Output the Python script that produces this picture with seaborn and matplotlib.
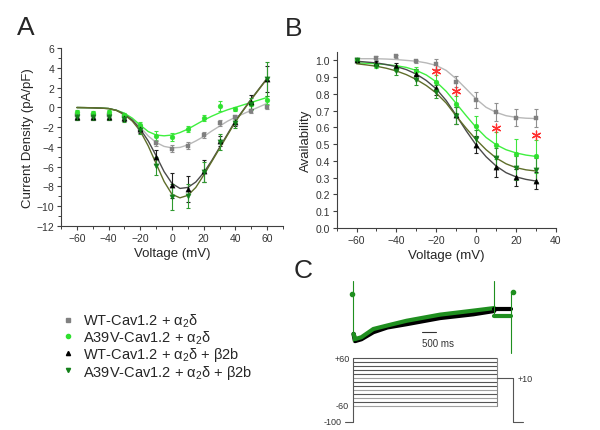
import numpy as np
import pandas as pd
import matplotlib.pyplot as plt
import seaborn as sns
from matplotlib.lines import Line2D
from matplotlib.ticker import MultipleLocator

sns.set_style('ticks')
plt.rcParams['font.family'] = ['Liberation Sans', 'DejaVu Sans']
plt.rcParams['mathtext.fontset'] = 'custom'
plt.rcParams['mathtext.rm'] = 'Liberation Sans'
plt.rcParams['mathtext.it'] = 'Liberation Sans:italic'

# --- dados painel A (curva I-V) ---
v_iv = [-60, -50, -40, -30, -20, -10, 0, 10, 20, 30, 40, 50, 60]
iv_wt = [-0.8, -0.8, -0.8, -0.9, -2.2, -3.6, -4.2, -3.88, -2.8, -1.6, -1.0, -0.34, 0.0]
iv_wt_err = [0.2, 0.2, 0.2, 0.2, 0.3, 0.3, 0.35, 0.35, 0.3, 0.3, 0.2, 0.2, 0.2]
iv_a39v = [-0.5, -0.57, -0.44, -0.78, -1.79, -2.87, -3.0, -2.22, -1.08, 0.1, -0.17, 0.37, 0.77]
iv_a39v_err = [0.2, 0.2, 0.2, 0.2, 0.3, 0.5, 0.4, 0.3, 0.35, 0.5, 0.2, 0.2, 0.4]
iv_wt_b2b = [-1.0, -0.95, -0.95, -1.1, -2.2, -5.05, -7.9, -8.26, -6.4, -3.37, -1.45, 0.5, 2.87]
iv_wt_b2b_err = [0.3, 0.3, 0.3, 0.3, 0.4, 0.7, 1.3, 1.3, 1.1, 0.5, 0.4, 0.7, 1.3]
iv_a39v_b2b = [-1.0, -1.0, -1.0, -1.15, -2.3, -5.9, -9.1, -8.93, -6.57, -3.5, -1.6, 0.34, 2.87]
iv_a39v_b2b_err = [0.3, 0.3, 0.3, 0.3, 0.4, 0.9, 1.3, 1.2, 1.0, 0.8, 0.5, 0.6, 1.7]

# curvas ajustadas (passo de 5 mV)
v_iv_fit = list(range(-60, 61, 5))
fit_iv_wt = [-0.02, -0.03, -0.04, -0.07, -0.12, -0.3, -0.6, -1.2, -2.0, -2.9, -3.55, -3.95, -4.1,
             -4.05, -3.8, -3.4, -2.95, -2.4, -1.9, -1.4, -1.0, -0.65, -0.3, 0.05, 0.4]
fit_iv_a39v = [-0.02, -0.03, -0.04, -0.07, -0.12, -0.3, -0.6, -1.1, -1.8, -2.45, -2.8, -2.88, -2.8,
               -2.55, -2.2, -1.75, -1.3, -0.9, -0.55, -0.25, 0.0, 0.25, 0.5, 0.75, 1.0]
fit_iv_wt_b2b = [-0.02, -0.03, -0.05, -0.08, -0.12, -0.3, -0.7, -1.3, -2.2, -3.4, -4.9, -6.5, -7.7,
                 -8.2, -8.1, -7.55, -6.6, -5.4, -4.05, -2.7, -1.35, -0.25, 0.85, 1.9, 2.95]
fit_iv_a39v_b2b = [-0.02, -0.03, -0.05, -0.08, -0.13, -0.32, -0.75, -1.4, -2.4, -3.9, -5.7, -7.5, -8.8,
                   -9.15, -8.9, -8.1, -6.85, -5.5, -4.15, -2.8, -1.45, -0.3, 0.8, 1.85, 2.9]

# --- dados painel B (disponibilidade) ---
v_inact = [-60, -50, -40, -30, -20, -10, 0, 10, 20, 30]
av_wt = [1.004, 1.014, 1.024, 0.994, 0.978, 0.874, 0.763, 0.693, 0.657, 0.657]
av_wt_err = [0.005, 0.01, 0.01, 0.01, 0.03, 0.03, 0.05, 0.055, 0.05, 0.055]
av_a39v = [1.0, 0.97, 0.955, 0.937, 0.874, 0.739, 0.609, 0.493, 0.443, 0.427]
av_a39v_err = [0.005, 0.015, 0.02, 0.025, 0.04, 0.05, 0.06, 0.08, 0.09, 0.1]
av_wt_b2b = [1.0, 0.987, 0.964, 0.918, 0.834, 0.673, 0.497, 0.363, 0.303, 0.283]
av_wt_b2b_err = [0.005, 0.01, 0.02, 0.03, 0.04, 0.05, 0.05, 0.06, 0.05, 0.05]
av_a39v_b2b = [1.0, 0.968, 0.934, 0.884, 0.814, 0.67, 0.533, 0.417, 0.357, 0.347]
av_a39v_b2b_err = [0.005, 0.01, 0.02, 0.03, 0.04, 0.05, 0.05, 0.06, 0.07, 0.07]

v_inact_fit = list(range(-60, 31, 5))
fit_av_wt = [1.01, 1.01, 1.01, 1.008, 1.005, 1.0, 0.995, 0.985, 0.97, 0.94, 0.89, 0.83, 0.77,
             0.72, 0.69, 0.67, 0.66, 0.655, 0.653]
fit_av_a39v = [0.985, 0.983, 0.98, 0.975, 0.968, 0.958, 0.94, 0.913, 0.872, 0.815, 0.743, 0.67, 0.6,
               0.54, 0.497, 0.467, 0.448, 0.435, 0.427]
fit_av_wt_b2b = [0.995, 0.99, 0.985, 0.975, 0.963, 0.945, 0.918, 0.88, 0.83, 0.76, 0.672, 0.58, 0.495,
                 0.425, 0.37, 0.33, 0.305, 0.29, 0.28]
fit_av_a39v_b2b = [0.98, 0.973, 0.965, 0.953, 0.937, 0.915, 0.886, 0.85, 0.805, 0.745, 0.668, 0.595, 0.527,
                   0.467, 0.418, 0.383, 0.36, 0.347, 0.34]

# asteriscos de significancia
v_star = [-20, -10, 10, 30]
y_star = [0.934, 0.817, 0.597, 0.557]

# --- dados painel C (correntes e protocolo) ---
t_trace = [30, 80, 300, 715, 1200, 1870, 3030, 4185, 4910]
i_black = [-0.85, -1.0, -0.96, -0.81, -0.71, -0.64, -0.51, -0.43, -0.36]
i_green = [-0.85, -0.96, -0.92, -0.745, -0.67, -0.57, -0.44, -0.355, -0.30]
t_tail = [4910, 5490]
i_tail_black = [-0.32, -0.32]
i_tail_green = [-0.46, -0.46]
t_onset, i_onset = [0, 0], [0.28, -1.0]
t_off, i_off = [4910, 4910], [0.28, -0.46]
t_end, i_end = [5490, 5490], [0.04, -1.25]
t_dots, i_dots = [-35, 5570], [0.0, 0.04]

step_levels = [60, 50, 40, 30, 20, 10, 0, -10, -20, -30, -40, -50, -60]
t_step = [0, 4997]
t_hold = [-267, 0]
t_test = [4997, 5573]
t_after = [5573, 5899]
v_hold, v_test = -100, 10

labels = ['WT-Cav1.2 + α$_2$δ', 'A39V-Cav1.2 + α$_2$δ',
          'WT-Cav1.2 + α$_2$δ + β2b', 'A39V-Cav1.2 + α$_2$δ + β2b']

# estilos
grupos = [
    dict(iv=iv_wt, iv_err=iv_wt_err, iv_fit=fit_iv_wt, av=av_wt, av_err=av_wt_err, av_fit=fit_av_wt,
         marker='s', mcol='#808080', lcol='#b8b8b8', ecol='#909090', ms=10),
    dict(iv=iv_a39v, iv_err=iv_a39v_err, iv_fit=fit_iv_a39v, av=av_a39v, av_err=av_a39v_err, av_fit=fit_av_a39v,
         marker='o', mcol='#2ee02e', lcol='#3ff03f', ecol='#3ee63e', ms=12),
    dict(iv=iv_wt_b2b, iv_err=iv_wt_b2b_err, iv_fit=fit_iv_wt_b2b, av=av_wt_b2b, av_err=av_wt_b2b_err, av_fit=fit_av_wt_b2b,
         marker='^', mcol='#000000', lcol='#4a4a4a', ecol='#202020', ms=14),
    dict(iv=iv_a39v_b2b, iv_err=iv_a39v_b2b_err, iv_fit=fit_iv_a39v_b2b, av=av_a39v_b2b, av_err=av_a39v_b2b_err, av_fit=fit_av_a39v_b2b,
         marker='v', mcol='#13801a', lcol='#5f6e2a', ecol='#2f9a2f', ms=14),
]

fig = plt.figure(figsize=(6, 4.31), dpi=100)
axA = fig.add_axes([0.1017, 0.4733, 0.37, 0.413])
axB = fig.add_axes([0.561, 0.4687, 0.3655, 0.4083])

def draw_panel(ax, v, v_fit, key):
    for g in grupos:
        sns.lineplot(x=v_fit, y=g[key + '_fit'], color=g['lcol'], lw=1, ax=ax)
        ax.errorbar(v, g[key], yerr=g[key + '_err'], fmt='none', ecolor=g['ecol'],
                    elinewidth=0.8, capsize=1.6, capthick=0.8)
        sns.scatterplot(x=v, y=g[key], marker=g['marker'], color=g['mcol'], s=g['ms'],
                        edgecolor=g['mcol'], linewidth=0.3, ax=ax, zorder=3)

draw_panel(axA, v_iv, v_iv_fit, 'iv')
draw_panel(axB, v_inact, v_inact_fit, 'av')

axB.scatter(v_star, y_star, marker=(6, 2, 0), s=40, color='#ff3030', linewidths=0.9, zorder=4)

for ax in [axA, axB]:
    sns.despine(ax=ax)
    for s in ['left', 'bottom']:
        ax.spines[s].set_color('#404040')
        ax.spines[s].set_linewidth(0.8)
    ax.tick_params(which='major', length=3, width=0.8, color='#404040', labelsize=7.5,
                   labelcolor='#333333', pad=2)
    ax.tick_params(which='minor', length=2, width=0.7, color='#404040')
    ax.set_xlabel('Voltage (mV)', fontsize=9.5, labelpad=3)

axA.set_xlim(-70, 70)
axA.set_ylim(-12, 6)
axA.set_xticks(range(-60, 61, 20))
axA.xaxis.set_minor_locator(MultipleLocator(10))
axA.set_yticks(range(-12, 7, 2))
axA.yaxis.set_minor_locator(MultipleLocator(1))
axA.set_ylabel('Current Density (pA/pF)', fontsize=9.5, labelpad=2)

axB.set_xlim(-70, 40)
axB.set_ylim(0, 1.05)
axB.set_xticks(range(-60, 41, 20))
axB.xaxis.set_minor_locator(MultipleLocator(10))
axB.set_yticks(np.round(np.arange(0, 1.01, 0.1), 1))
axB.set_yticklabels([f'{t:.1f}' for t in np.arange(0, 1.01, 0.1)])
axB.set_ylabel('Availability', fontsize=9.5, labelpad=2)

# painel C
axT = fig.add_axes([0.55, 0.1694, 0.35, 0.1856])
axP = fig.add_axes([0.55, 0.0023, 0.35, 0.1856])
for ax in [axT, axP]:
    ax.set_xlim(-790, 6500)
    ax.axis('off')
axT.set_ylim(-1.34, 0.36)
axP.set_ylim(-119, 83.5)

sns.lineplot(x=t_trace, y=i_black, color='black', lw=3.2, ax=axT)
sns.lineplot(x=t_trace, y=i_green, color='#1f8f1f', lw=3.0, ax=axT)
axT.plot(t_tail, i_tail_black, color='black', lw=3.0)
axT.plot(t_tail, i_tail_green, color='#1f8f1f', lw=3.0)
axT.plot(t_onset, i_onset, color='#1f8f1f', lw=0.8)
axT.plot(t_off, i_off, color='#1f8f1f', lw=0.8)
axT.plot(t_end, i_end, color='#1f8f1f', lw=0.8)
axT.scatter(t_dots, i_dots, color='#1f8f1f', s=9, zorder=3)
axT.plot([2400, 2900], [-0.815, -0.815], color='#333333', lw=0.8)
axT.text(2400, -0.93, '500 ms', fontsize=7, color='#333333', ha='left', va='top')

cores_nivel = ['#555555', '#555555', '#555555', '#555555', '#555555', '#a0a0a0', '#555555',
               '#555555', '#a0a0a0', '#555555', '#a0a0a0', '#555555', '#a0a0a0']
for lvl, cor in zip(step_levels, cores_nivel):
    axP.plot(t_step, [lvl, lvl], color=cor, lw=0.8)
axP.plot([0, 0], [v_hold, max(step_levels)], color='#555555', lw=0.8)
axP.plot([t_step[1], t_step[1]], [min(step_levels), max(step_levels)], color='#888888', lw=0.8)
axP.plot(t_hold, [v_hold, v_hold], color='#555555', lw=0.8)
axP.plot(t_test, [v_test, v_test], color='#555555', lw=0.8)
axP.plot([t_test[1], t_test[1]], [v_test, v_hold], color='#555555', lw=0.8)
axP.plot(t_after, [v_hold, v_hold], color='#555555', lw=0.8)
axP.text(-90, 60, '+60', fontsize=6.5, ha='right', va='center', color='#333333')
axP.text(-150, -60, '-60', fontsize=6.5, ha='right', va='center', color='#333333')
axP.text(-380, -100, '-100', fontsize=6.5, ha='right', va='center', color='#333333')
axP.text(5710, 10, '+10', fontsize=6.5, ha='left', va='center', color='#333333')

# legenda
handles = [Line2D([], [], ls='none', marker=g['marker'], color=g['mcol'], markersize=3) for g in grupos]
fig.legend(handles, labels, loc='upper left', bbox_to_anchor=(0.106, 0.274), frameon=False,
           fontsize=10.5, handlelength=0.6, handletextpad=0.7, labelspacing=-0.05, borderpad=0,
           borderaxespad=0)

# letras dos paineis
fig.text(0.0433, 0.935, 'A', fontsize=19, ha='center', va='center')
fig.text(0.49, 0.933, 'B', fontsize=19, ha='center', va='center')
fig.text(0.505, 0.371, 'C', fontsize=19, ha='center', va='center')

fig.savefig('out.png', dpi=100)
